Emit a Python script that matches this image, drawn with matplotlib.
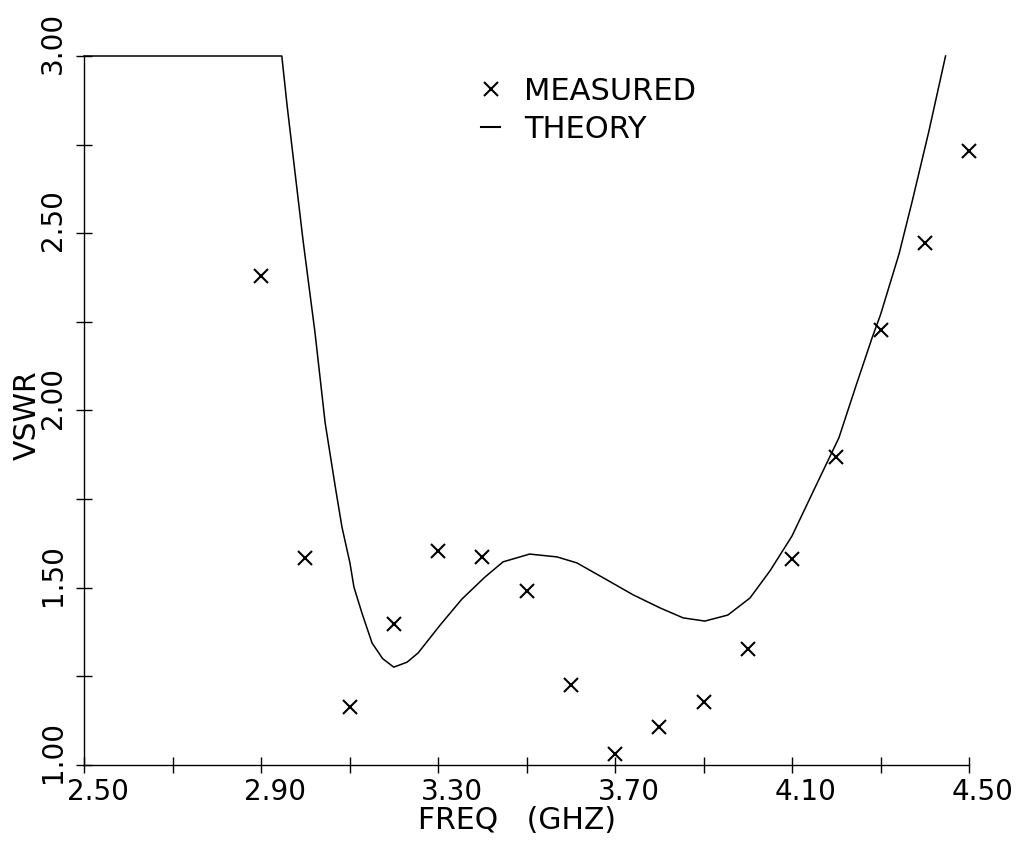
import matplotlib
matplotlib.use("Agg")
import matplotlib.pyplot as plt
import matplotlib.transforms as mtransforms
from matplotlib.lines import Line2D

# ---- data ----
freq_measured = [2.90, 3.00, 3.10, 3.20, 3.30, 3.40, 3.50, 3.60, 3.70,
                 3.80, 3.90, 4.00, 4.10, 4.20, 4.30, 4.40, 4.50]
vswr_measured = [2.380, 1.583, 1.163, 1.398, 1.604, 1.587, 1.491, 1.227, 1.030,
                 1.108, 1.177, 1.327, 1.581, 1.869, 2.227, 2.472, 2.732]

freq_theory = [2.500, 2.947, 2.959, 2.995, 3.022, 3.045, 3.069, 3.083, 3.101,
               3.110, 3.128, 3.151, 3.175, 3.200, 3.230, 3.255, 3.305, 3.354,
               3.406, 3.447, 3.507, 3.569, 3.614, 3.682, 3.741, 3.802, 3.854,
               3.903, 3.955, 4.005, 4.051, 4.100, 4.153, 4.206, 4.246, 4.281,
               4.300, 4.342, 4.372, 4.409, 4.447]
vswr_theory = [3.000, 3.000, 2.860, 2.480, 2.220, 1.965, 1.776, 1.671, 1.570,
               1.502, 1.429, 1.344, 1.300, 1.276, 1.290, 1.316, 1.395, 1.468,
               1.530, 1.573, 1.595, 1.587, 1.570, 1.522, 1.480, 1.443, 1.415,
               1.406, 1.423, 1.471, 1.549, 1.646, 1.785, 1.923, 2.075, 2.205,
               2.270, 2.442, 2.592, 2.786, 3.000]

x_ticks = [2.5, 2.7, 2.9, 3.1, 3.3, 3.5, 3.7, 3.9, 4.1, 4.3, 4.5]
x_ticklabels = ["2.50", "", "2.90", "", "3.30", "", "3.70", "", "4.10", "", "4.50"]
y_ticks = [1.0, 1.25, 1.5, 1.75, 2.0, 2.25, 2.5, 2.75, 3.0]
y_ticklabels = ["1.00", "", "1.50", "", "2.00", "", "2.50", "", "3.00"]

# ---- figure ----
plt.rcParams["font.family"] = ["DejaVu Sans"]
fig = plt.figure(figsize=(10.24, 8.46), dpi=100)
ax = fig.add_axes([84 / 1024, 1 - 765 / 846, 885 / 1024, 709 / 846])

ax.plot(freq_theory, vswr_theory, color="black", lw=1.1, clip_on=False)
ax.plot(freq_measured, vswr_measured, ls="none", marker="x", color="black",
        ms=10, mew=1.5, clip_on=False)

ax.set_xlim(2.5, 4.5)
ax.set_ylim(1.0, 3.0)

for s in ("top", "right"):
    ax.spines[s].set_visible(False)
for s in ("left", "bottom"):
    ax.spines[s].set_linewidth(1.0)
    ax.spines[s].set_color("black")

ax.set_xticks(x_ticks)
ax.set_xticklabels(x_ticklabels)
ax.set_yticks(y_ticks)
ax.set_yticklabels(y_ticklabels, rotation=90, va="center")
ax.tick_params(axis="both", direction="inout", length=12, width=1.0,
               labelsize=20, colors="black")
ax.tick_params(axis="x", pad=3)
ax.tick_params(axis="y", pad=6)

dpi = fig.dpi
off_x = mtransforms.ScaledTranslation(14 / dpi, 0, fig.dpi_scale_trans)
off_y = mtransforms.ScaledTranslation(0, 13 / dpi, fig.dpi_scale_trans)
for t in ax.xaxis.get_major_ticks():
    t.label1.set_transform(t.label1.get_transform() + off_x)
for t in ax.yaxis.get_major_ticks():
    t.label1.set_transform(t.label1.get_transform() + off_y)

ax.set_xlabel("FREQ   (GHZ)", fontsize=21.5)
ax.xaxis.label.set_va("center")
ax.xaxis.set_label_coords(0.489, -0.078)
ax.set_ylabel("VSWR", fontsize=21.5)
ax.yaxis.label.set_va("center")
ax.yaxis.set_label_coords(-0.0644, 0.494)

handles = [Line2D([], [], ls="none", marker="x", color="black", ms=10, mew=1.5),
           Line2D([], [], color="black", lw=1.5)]
ax.legend(handles, ["MEASURED", "THEORY"], loc="upper left",
          bbox_to_anchor=(0.449, 0.971), frameon=False, fontsize=22,
          handlelength=0.6, handletextpad=0.8, labelspacing=0.3,
          borderpad=0, borderaxespad=0)

fig.savefig("out.png", dpi=100, facecolor="white")
